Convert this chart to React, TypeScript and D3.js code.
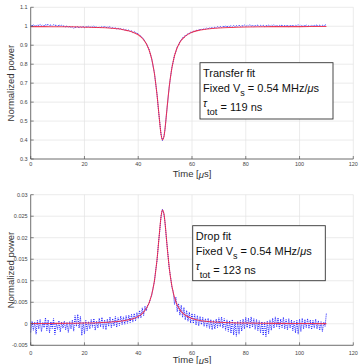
import React from "react";
import * as d3 from "d3";

// ---------- data ----------
const TIME_STEP = 0.5; // µs between samples, starting at 0
const X_TICKS = [0, 20, 40, 60, 80, 100, 120];

const TRANSFER_Y_TICKS = [0.3, 0.4, 0.5, 0.6, 0.7, 0.8, 0.9, 1.0, 1.1];
const TRANSFER_Y_LABELS = ["0.3", "0.4", "0.5", "0.6", "0.7", "0.8", "0.9", "1", "1.1"];
const DROP_Y_TICKS = [-0.005, 0, 0.005, 0.01, 0.015, 0.02, 0.025, 0.03];
const DROP_Y_LABELS = ["-0.005", "0", "0.005", "0.01", "0.015", "0.02", "0.025", "0.03"];

const TRANSFER_DATA = [
  1.006, 1.001, 1.009, 1.003, 0.999, 1.008, 1.004, 1.01, 1.002, 1.006, 1.0, 1.009, 1.005, 1.011, 1.003, 1.007, 1.001, 1.008, 1.004, 1.006, 0.999, 1.007, 1.003, 1.005, 1.0,
  1.002, 0.996, 1.003, 0.994, 0.999, 0.992, 0.997, 0.99, 0.996, 0.993, 0.999, 0.991, 0.997, 0.994, 1.0, 0.992, 0.998, 0.995, 1.001, 0.993, 0.999, 0.996, 1.002, 0.994, 0.998, 0.991, 0.997, 0.993, 0.999, 0.995, 1.0, 0.992, 0.997, 0.994, 0.998, 0.989, 0.994, 0.987, 0.993, 0.985, 0.991, 0.984, 0.989, 0.981, 0.986, 0.978,
  0.984, 0.975, 0.981, 0.972, 0.976, 0.967, 0.972, 0.966, 0.963, 0.96, 0.952, 0.948, 0.938, 0.933, 0.918, 0.911, 0.893, 0.879, 0.853, 0.83,
  0.79, 0.756, 0.697, 0.64, 0.561, 0.494, 0.427, 0.398, 0.417, 0.461, 0.538, 0.606, 0.679, 0.73, 0.782, 0.812,
  0.849, 0.865, 0.892, 0.899, 0.921, 0.924, 0.94, 0.939, 0.953, 0.951, 0.962, 0.96, 0.97, 0.966, 0.975, 0.971, 0.98, 0.976, 0.984, 0.979, 0.987, 0.982, 0.989, 0.985,
  0.991, 0.986, 0.993, 0.988, 0.995, 0.989, 0.996, 0.991, 0.998, 0.992, 1.0, 0.994, 1.001, 0.995, 1.003, 0.996, 1.002, 0.997, 1.004, 0.998,
  1.005, 0.997, 1.003, 0.999, 1.006, 0.998, 1.004, 1.0, 1.007, 0.999, 1.005, 1.001, 1.008, 1.0, 1.006, 0.998, 1.004, 1.001, 1.007, 0.999,
  1.005, 1.0, 1.006, 0.998, 1.004, 1.001, 1.007, 0.999, 1.005, 1.002, 1.008, 1.0, 1.006, 0.998, 1.005, 1.001, 1.007, 0.999, 1.004, 1.001,
  1.006, 0.998, 1.004, 1.0, 1.007, 0.999, 1.005, 1.002, 1.008, 1.0, 1.006, 0.999, 1.005, 1.001, 1.007, 0.998, 1.004, 1.0, 1.006, 0.999,
  1.005, 1.002, 1.008, 1.0, 1.006, 0.999, 1.005, 1.001, 1.009, 1.003,
];

const DROP_DATA = [
  -0.002, 0.0006, -0.0015, 0.0004, -0.0024, 0.0008, -0.0012, 0.001, -0.0018, 0.0003, -0.0009, 0.0014, -0.0016, 0.0009, -0.0021, 0.0005, -0.0011, 0.0012, -0.0025, 0.0002, -0.0013, 0.0007, -0.0019, 0.0004, -0.001,
  0.0006, -0.0014, 0.0003, -0.002, 0.0005, -0.0012, 0.0009, -0.0017, 0.0019, -0.0006, 0.0022, -0.001, 0.0017, -0.0027, 0.0004, -0.0023, 0.0008, -0.0016, 0.0005, -0.0012, 0.001, -0.0008, 0.0012, -0.0015, 0.0006, -0.001, 0.0013, -0.0007, 0.0015, -0.0011, 0.0009, -0.0014, 0.0011, -0.0006, 0.0016, -0.0009, 0.0012, -0.0005, 0.0017, -0.0008, 0.0014, -0.0004, 0.0018, -0.0002, 0.0016, -0.0001,
  0.0019, 0.0001, 0.002, 0.0003, 0.0022, 0.0004, 0.0024, 0.0007, 0.0026, 0.0012, 0.0031, 0.0014, 0.0037, 0.0019, 0.0041, 0.003, 0.0044, 0.0046, 0.0058, 0.0066,
  0.0083, 0.0097, 0.0125, 0.0147, 0.0186, 0.0216, 0.0251, 0.0266, 0.0256, 0.0234, 0.0196, 0.0165, 0.013, 0.011, 0.0086, 0.0075,
  0.0045, 0.0062, 0.0028, 0.0047, 0.002, 0.0043, 0.0015, 0.0038, 0.0009, 0.0031, 0.0006, 0.0027, 0.0002, 0.0024, 0.0001, 0.0022, -0.0003, 0.0019, -0.0005, 0.0017, -0.0002, 0.0015, -0.0006, 0.0012,
  -0.0008, 0.0013, -0.0011, 0.001, -0.0014, 0.0008, -0.0012, 0.0011, -0.0009, 0.0014,
  -0.0007, 0.0016, -0.001, 0.0012, -0.0015, 0.0009, -0.0018, 0.0007, -0.0022, 0.001,
  -0.0026, 0.0004, -0.0029, 0.0006, -0.0024, 0.0008, -0.0017, 0.0011, -0.0012, 0.0015,
  -0.0009, 0.0013, -0.0011, 0.0016, -0.0008, 0.0012, -0.0013, 0.001, -0.0016, 0.0007,
  -0.0021, 0.0005, -0.0027, 0.0003, -0.003, 0.0006, -0.0023, 0.0009, -0.0015, 0.0013,
  -0.001, 0.0016, -0.0007, 0.0014, -0.0011, 0.0011, -0.0009, 0.0015, -0.0012, 0.001,
  -0.0014, 0.0012, -0.001, 0.0009, -0.0016, 0.0006, -0.0021, 0.0008, -0.0024, 0.0011,
  -0.0018, 0.0013, -0.0012, 0.001, -0.0009, 0.0012, -0.0011, 0.0009, -0.0013, 0.0008,
  -0.001, 0.0011, -0.0012, 0.0007, -0.0015, 0.0005, -0.0018, 0.0004, -0.0006, 0.0025,
];

const FIT_TIME = [0, 5, 10, 15, 20, 25, 30, 34, 36, 38, 40, 41, 42, 43, 44, 45, 46, 47, 47.5, 48, 48.5, 49, 49.5, 50, 50.5, 51, 52, 53, 54, 55, 56, 57, 58, 60, 62, 65, 70, 75, 80, 90, 100, 110];
const TRANSFER_FIT = [0.998, 0.998, 0.997, 0.997, 0.995, 0.993, 0.989, 0.983, 0.977, 0.969, 0.955, 0.944, 0.929, 0.908, 0.876, 0.828, 0.752, 0.637, 0.565, 0.491, 0.43, 0.401, 0.414, 0.464, 0.535, 0.609, 0.733, 0.815, 0.868, 0.902, 0.926, 0.941, 0.953, 0.968, 0.977, 0.984, 0.991, 0.994, 0.996, 0.998, 0.998, 0.999];
const DROP_FIT = [0.00006, 0.00008, 0.0001, 0.00013, 0.00018, 0.00026, 0.00041, 0.00065, 0.00086, 0.00118, 0.00172, 0.00214, 0.00272, 0.00355, 0.0048, 0.00676, 0.00993, 0.01501, 0.01835, 0.0219, 0.02494, 0.02645, 0.02578, 0.02323, 0.01978, 0.01629, 0.01077, 0.00728, 0.00513, 0.00376, 0.00286, 0.00224, 0.0018, 0.00123, 0.00089, 0.00059, 0.00035, 0.00023, 0.00016, 0.00009, 0.00006, 0.00004];

// ---------- layout ----------
const W = 361;
const H = 364;
const FONT = "'Liberation Sans', Arial, Helvetica, sans-serif";
const AXIS_COLOR = "#555";
const GRID_COLOR = "#e3e3e3";
const TICK_TEXT = "#444";

type PanelProps = {
  top: number;
  bottom: number;
  yDomain: [number, number];
  yTicks: number[];
  yLabels: string[];
  data: number[];
  fit: number[];
  xTickLabelY: number;
  xLabelY: number;
  box: { x: number; y: number; w: number; h: number };
  title: string;
  tau: string;
};

function Panel(p: PanelProps) {
  const x = d3.scaleLinear().domain([0, 120]).range([30.7, 353.3]);
  const y = d3.scaleLinear().domain(p.yDomain).range([p.bottom, p.top]);
  const dataLine = d3
    .line<number>()
    .x((_, i) => x(i * TIME_STEP))
    .y((d) => y(d));
  const fitLine = d3
    .line<number>()
    .x((_, i) => x(FIT_TIME[i]))
    .y((d) => y(d))
    .curve(d3.curveCatmullRom.alpha(0.5));
  const [x0, x1] = x.range();
  const b = p.box;
  const tx = b.x + 3;
  return (
    <g>
      {/* grid */}
      {X_TICKS.map((t) => (
        <line key={"gx" + t} x1={x(t)} x2={x(t)} y1={p.top} y2={p.bottom} stroke={GRID_COLOR} strokeWidth={0.7} />
      ))}
      {p.yTicks.map((t) => (
        <line key={"gy" + t} x1={x0} x2={x1} y1={y(t)} y2={y(t)} stroke={GRID_COLOR} strokeWidth={0.7} />
      ))}
      {/* data */}
      <path d={dataLine(p.data) || ""} fill="none" stroke="#1f1fff" strokeWidth={1.0} strokeDasharray="1 1" />
      <path d={fitLine(p.fit) || ""} fill="none" stroke="#f0203c" strokeWidth={1.05} opacity={0.85} />
      {/* axes */}
      <line x1={x0} x2={x0} y1={p.top} y2={p.bottom} stroke={AXIS_COLOR} strokeWidth={0.8} />
      <line x1={x0} x2={x1} y1={p.bottom} y2={p.bottom} stroke={AXIS_COLOR} strokeWidth={0.8} />
      {p.yTicks.map((t, i) => (
        <g key={"ty" + t}>
          <line x1={x0} x2={x0 + 3} y1={y(t)} y2={y(t)} stroke={AXIS_COLOR} strokeWidth={0.7} />
          <text x={27.6} y={y(t)} fontSize={5.5} fill={TICK_TEXT} textAnchor="end" dominantBaseline="central" fontFamily={FONT}>
            {p.yLabels[i]}
          </text>
        </g>
      ))}
      {X_TICKS.map((t) => (
        <g key={"tx" + t}>
          <line x1={x(t)} x2={x(t)} y1={p.bottom} y2={p.bottom - 3} stroke={AXIS_COLOR} strokeWidth={0.7} />
          <text x={x(t)} y={p.xTickLabelY} fontSize={5.5} fill={TICK_TEXT} textAnchor="middle" dominantBaseline="central" fontFamily={FONT}>
            {t}
          </text>
        </g>
      ))}
      {/* axis labels */}
      <text x={(x0 + x1) / 2} y={p.xLabelY} fontSize={9.5} fill="#333" textAnchor="middle" dominantBaseline="central" fontFamily={FONT}>
        Time [<tspan fontStyle="italic">μ</tspan>s]
      </text>
      <text
        transform={`translate(10.7,${(p.top + p.bottom) / 2}) rotate(-90)`}
        fontSize={9.5}
        fill="#333"
        textAnchor="middle"
        dominantBaseline="central"
        fontFamily={FONT}
      >
        Normalized power
      </text>
      {/* annotation box */}
      <rect x={b.x} y={b.y} width={b.w} height={b.h} fill="#fff" stroke="#333" strokeWidth={0.9} />
      <text x={tx} y={b.y + 14.2} fontSize={11} fill="#111" fontFamily={FONT}>
        {p.title}
      </text>
      <text x={tx} y={b.y + 28.9} fontSize={11} fill="#111" fontFamily={FONT}>
        Fixed V<tspan fontSize={9} dy={4.5}>s</tspan>
        <tspan dy={-4.5}> = 0.54 MHz/</tspan>
        <tspan fontStyle="italic">μ</tspan>s
      </text>
      <text x={tx} y={b.y + 48.3} fontSize={11} fill="#111" fontFamily={FONT}>
        <tspan fontSize={10.5} fontStyle="italic" dy={-4}>τ</tspan>
        <tspan fontSize={9.5} dy={7.5}>tot</tspan>
        <tspan dy={-3.5}>{" = " + p.tau}</tspan>
      </text>
    </g>
  );
}

export default function App() {
  return (
    <svg width={W} height={H} style={{ position: "absolute", left: 0, top: 0, background: "#fff" }}>
      <rect x={0} y={0} width={W} height={H} fill="#fff" />
      <Panel
        top={7.3}
        bottom={159}
        yDomain={[0.3, 1.1]}
        yTicks={TRANSFER_Y_TICKS}
        yLabels={TRANSFER_Y_LABELS}
        data={TRANSFER_DATA}
        fit={TRANSFER_FIT}
        xTickLabelY={164.3}
        xLabelY={173.5}
        box={{ x: 200, y: 62.7, w: 133, h: 56.3 }}
        title="Transfer fit"
        tau="119 ns"
      />
      <Panel
        top={194.7}
        bottom={345.3}
        yDomain={[-0.005, 0.03]}
        yTicks={DROP_Y_TICKS}
        yLabels={DROP_Y_LABELS}
        data={DROP_DATA}
        fit={DROP_FIT}
        xTickLabelY={352.8}
        xLabelY={359.8}
        box={{ x: 192.7, y: 225.7, w: 132.6, h: 55 }}
        title="Drop fit"
        tau="123 ns"
      />
    </svg>
  );
}
